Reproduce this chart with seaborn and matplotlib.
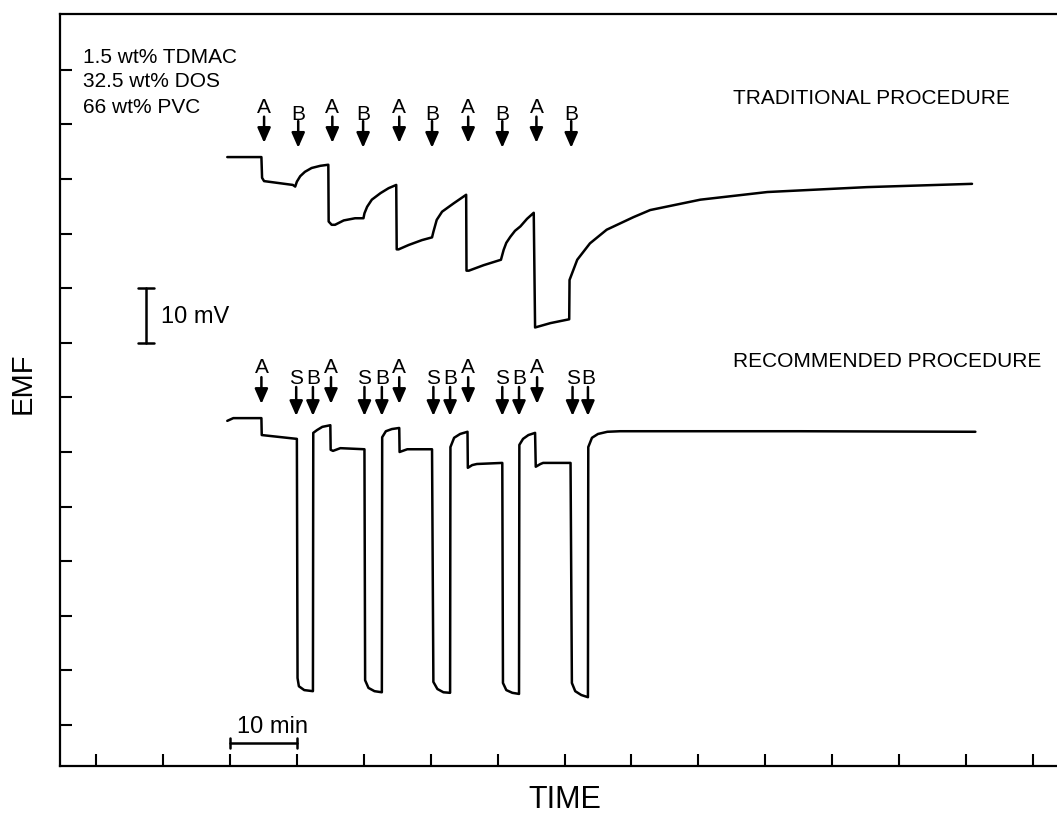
import matplotlib
matplotlib.use("Agg")
import matplotlib.pyplot as plt
import seaborn as sns
import pandas as pd

# ---------------- data (time in min, EMF in mV) ----------------
trad_t = [19.6, 24.7, 24.8, 25.1, 29.4, 29.75, 30.0, 30.5, 31.2, 32.2, 33.5, 34.7,
          34.75, 35.2, 35.7, 37.0, 38.7, 39.95,
          40.1, 40.5, 41.2, 42.5, 43.7, 44.85,
          44.92, 45.2, 46.7, 48.7, 50.2,
          50.4, 50.9, 51.7, 53.4, 55.3,
          55.35, 55.7, 57.9, 60.5,
          60.9, 61.3, 61.9, 62.6, 63.4, 64.4, 65.4,
          65.6, 67.9, 70.7, 70.75, 71.9, 73.8, 76.3, 80.3, 82.8, 90.3,
          100.3, 115.2, 130.9]
trad_v = [104.0, 104.0, 100.2, 99.6, 98.9, 98.6, 99.5, 100.5, 101.3, 102.0, 102.4, 102.6,
          92.2, 91.6, 91.6, 92.4, 92.8, 92.8,
          93.7, 94.9, 96.2, 97.4, 98.3, 98.9,
          87.1, 87.1, 87.9, 88.8, 89.3,
          90.3, 92.5, 94.0, 95.5, 97.1,
          83.2, 83.2, 84.2, 85.2,
          87.0, 88.3, 89.4, 90.5, 91.3, 92.7, 93.8,
          72.8, 73.6, 74.3, 81.5, 85.2, 88.2, 90.7, 93.0, 94.3, 96.2,
          97.6, 98.5, 99.1]

rec_t = [19.6, 20.5, 24.7, 24.75, 30.0, 30.1, 30.3, 31.1, 32.4,
         32.45, 33.0, 33.8, 35.0, 35.05, 35.4, 36.5, 40.1,
         40.2, 40.7, 41.6, 42.7, 42.75, 43.3, 44.2, 45.3,
         45.35, 46.5, 50.2, 50.4, 51.0, 51.9, 52.9,
         52.95, 53.5, 54.4, 55.5, 55.55, 56.2, 56.9, 60.7,
         60.8, 61.3, 62.2, 63.2, 63.25, 63.8, 64.6, 65.6,
         65.7, 66.4, 66.8, 70.9, 71.1, 71.6, 72.5, 73.5,
         73.55, 74.1, 75.0, 76.4, 78.3, 82.8, 105.2, 131.4]
rec_v = [55.7, 56.2, 56.2, 53.1, 52.4, 8.6, 7.1, 6.4, 6.2,
         53.5, 54.0, 54.6, 54.9, 50.4, 50.2, 50.7, 50.5,
         8.2, 6.8, 6.2, 6.0, 52.7, 53.8, 54.2, 54.4,
         50.0, 50.5, 50.5, 7.9, 6.6, 6.0, 5.9,
         50.9, 52.6, 53.3, 53.7, 47.1, 47.6, 47.8, 48.0,
         7.7, 6.4, 5.9, 5.7, 51.3, 52.4, 53.1, 53.5,
         47.3, 47.8, 48.0, 48.0, 7.7, 6.2, 5.5, 5.1,
         50.9, 52.6, 53.3, 53.7, 53.8, 53.8, 53.8, 53.7]

# addition markers (time positions)
trad_A = [25.1, 35.3, 45.3, 55.6, 65.8]
trad_B = [30.2, 39.9, 50.2, 60.7, 71.0]
rec_A = [24.7, 35.1, 45.3, 55.6, 65.9]
rec_S = [29.9, 40.1, 50.4, 60.7, 71.2]
rec_B = [32.4, 42.7, 52.9, 63.2, 73.5]

x_ticks = list(range(0, 141, 10))
y_ticks = list(range(0, 121, 10))

membrane_lines = ["1.5 wt% TDMAC", "32.5 wt% DOS", "66 wt% PVC"]

# ---------------- figure ----------------
sns.set_theme(style="white")
plt.rcParams['font.family'] = ['Liberation Sans', 'DejaVu Sans']
plt.rcParams['text.color'] = 'black'
plt.rcParams['axes.labelcolor'] = 'black'

fig = plt.figure(figsize=(10.57, 8.14), dpi=100)
ax = fig.add_axes([60 / 1057, 48 / 814, 997 / 1057, 752 / 814])

df = pd.concat([
    pd.DataFrame({"t": trad_t, "v": trad_v, "proc": "trad"}),
    pd.DataFrame({"t": rec_t, "v": rec_v, "proc": "rec"}),
])
for proc in ["trad", "rec"]:
    sns.lineplot(data=df[df.proc == proc], x="t", y="v", sort=False, estimator=None,
                 color="black", lw=1.8, ax=ax)

ax.set_xlim(-5.4, 143.6)
ax.set_ylim(-7.5, 130.2)
ax.set_xticks(x_ticks)
ax.set_yticks(y_ticks)
ax.tick_params(axis="both", direction="in", length=8.5, width=1.5, color="black",
               labelbottom=False, labelleft=False, bottom=True, left=True)
for s in ["left", "bottom", "top"]:
    ax.spines[s].set_linewidth(1.6)
    ax.spines[s].set_color("black")
ax.spines["right"].set_visible(False)

ax.set_xlabel("TIME", fontsize=22, va="center")
ax.set_ylabel("EMF", fontsize=21, va="center")
ax.xaxis.set_label_coords(0.5065, -0.0452)
ax.yaxis.set_label_coords(-0.0371, 0.509)

# arrows
def arrow(x, top, tip):
    ax.annotate("", xy=(x, tip), xytext=(x, top),
                arrowprops=dict(arrowstyle="-|>,head_length=0.5,head_width=0.22",
                                mutation_scale=18, lw=1.8, color="black",
                                shrinkA=0, shrinkB=0))

def marker(xs, letter, base, top, tip):
    for x in xs:
        ax.text(x, base, letter, fontsize=15, ha="center", va="baseline")
        arrow(x, top, tip)

marker(trad_A, "A", 112.1, 111.4, 106.6)
marker(trad_B, "B", 110.8, 110.6, 105.7)
marker(rec_A, "A", 64.5, 63.7, 58.8)
marker(rec_S, "S", 62.5, 61.9, 56.6)
marker(rec_B, "B", 62.5, 61.9, 56.6)

# texts
for txt, yb in zip(membrane_lines, [121.2, 116.8, 112.1]):
    ax.text(-1.9, yb, txt, fontsize=15, ha="left", va="baseline")
ax.text(95.2, 113.7, "TRADITIONAL PROCEDURE", fontsize=15, ha="left", va="baseline")
ax.text(95.2, 65.6, "RECOMMENDED PROCEDURE", fontsize=15, ha="left", va="baseline")

# scale bars
ax.plot([7.5, 7.5], [70, 80], color="black", lw=1.8)
ax.plot([6.3, 8.7], [70, 70], color="black", lw=1.8)
ax.plot([6.3, 8.7], [80, 80], color="black", lw=1.8)
ax.text(9.7, 73.6, "10 mV", fontsize=17, ha="left", va="baseline")

ax.plot([20, 30], [-3.3, -3.3], color="black", lw=1.8)
ax.plot([20, 20], [-4.2, -2.4], color="black", lw=1.8)
ax.plot([30, 30], [-4.2, -2.4], color="black", lw=1.8)
ax.text(26.3, -1.4, "10 min", fontsize=17, ha="center", va="baseline")

fig.savefig("out.png", dpi=100)
